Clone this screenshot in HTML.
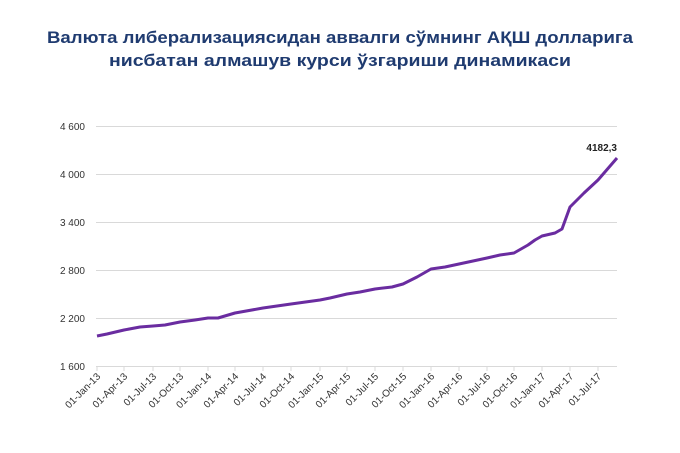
<!DOCTYPE html>
<html><head><meta charset="utf-8"><style>
html,body{margin:0;padding:0;background:#fff;}
svg{display:block;}
</style></head><body>
<svg width="680" height="453" viewBox="0 0 680 453" xmlns="http://www.w3.org/2000/svg" font-family="Liberation Sans, Arial, sans-serif">
<rect width="680" height="453" fill="#fff"/>
<g font-weight="bold" font-size="17" fill="#1f3b70" text-anchor="middle">
<text x="340" y="43" textLength="586" lengthAdjust="spacingAndGlyphs">Валюта либерализациясидан аввалги сўмнинг АҚШ долларига</text>
<text x="340" y="66" textLength="462" lengthAdjust="spacingAndGlyphs">нисбатан алмашув курси ўзгариши динамикаси</text>
</g>
<g stroke="#d9d9d9" stroke-width="1">
<line x1="96" x2="617" y1="126.5" y2="126.5"/>
<line x1="96" x2="617" y1="174.5" y2="174.5"/>
<line x1="96" x2="617" y1="222.5" y2="222.5"/>
<line x1="96" x2="617" y1="270.5" y2="270.5"/>
<line x1="96" x2="617" y1="318.5" y2="318.5"/>
<line x1="96" x2="617" y1="366.5" y2="366.5"/>
</g>
<g font-size="10" fill="#333" text-anchor="end">
<text x="85" y="130">4 600</text>
<text x="85" y="178">4 000</text>
<text x="85" y="226">3 400</text>
<text x="85" y="274">2 800</text>
<text x="85" y="322">2 200</text>
<text x="85" y="370">1 600</text>
</g>
<g stroke="#d9d9d9">
<line x1="97" x2="97" y1="366" y2="371"/><line x1="124" x2="124" y1="366" y2="371"/><line x1="153" x2="153" y1="366" y2="371"/><line x1="180" x2="180" y1="366" y2="371"/><line x1="208" x2="208" y1="366" y2="371"/><line x1="235" x2="235" y1="366" y2="371"/><line x1="263" x2="263" y1="366" y2="371"/><line x1="291" x2="291" y1="366" y2="371"/><line x1="320" x2="320" y1="366" y2="371"/><line x1="347" x2="347" y1="366" y2="371"/><line x1="375" x2="375" y1="366" y2="371"/><line x1="403" x2="403" y1="366" y2="371"/><line x1="431" x2="431" y1="366" y2="371"/><line x1="459" x2="459" y1="366" y2="371"/><line x1="487" x2="487" y1="366" y2="371"/><line x1="514" x2="514" y1="366" y2="371"/><line x1="542" x2="542" y1="366" y2="371"/><line x1="570" x2="570" y1="366" y2="371"/><line x1="598" x2="598" y1="366" y2="371"/>
</g>
<g font-size="10" fill="#333" text-anchor="end">
<text transform="translate(101,377) rotate(-45)">01-Jan-13</text>
<text transform="translate(128,377) rotate(-45)">01-Apr-13</text>
<text transform="translate(157,377) rotate(-45)">01-Jul-13</text>
<text transform="translate(184,377) rotate(-45)">01-Oct-13</text>
<text transform="translate(212,377) rotate(-45)">01-Jan-14</text>
<text transform="translate(239,377) rotate(-45)">01-Apr-14</text>
<text transform="translate(267,377) rotate(-45)">01-Jul-14</text>
<text transform="translate(295,377) rotate(-45)">01-Oct-14</text>
<text transform="translate(324,377) rotate(-45)">01-Jan-15</text>
<text transform="translate(351,377) rotate(-45)">01-Apr-15</text>
<text transform="translate(379,377) rotate(-45)">01-Jul-15</text>
<text transform="translate(407,377) rotate(-45)">01-Oct-15</text>
<text transform="translate(435,377) rotate(-45)">01-Jan-16</text>
<text transform="translate(463,377) rotate(-45)">01-Apr-16</text>
<text transform="translate(491,377) rotate(-45)">01-Jul-16</text>
<text transform="translate(518,377) rotate(-45)">01-Oct-16</text>
<text transform="translate(546,377) rotate(-45)">01-Jan-17</text>
<text transform="translate(574,377) rotate(-45)">01-Apr-17</text>
<text transform="translate(602,377) rotate(-45)">01-Jul-17</text>
</g>
<polyline fill="none" stroke="#6a2ca0" stroke-width="3" stroke-linejoin="round" points="97,336 107,334 124,330 140,327 153,326 165,325 180,322 195,320 208,318 218,318 235,313 263,308 291,304 320,300 330,298 347,294 360,292 375,289 392,287 403,284 417,277 431,269 445,267 459,264 487,258 500,255 514,253 528,245 535,240 542,236 555,233 562,229 570,207 584,193 598,180 617,158"/>
<text x="617" y="151" font-size="10" font-weight="bold" fill="#222" text-anchor="end">4182,3</text>
</svg>
</body></html>
